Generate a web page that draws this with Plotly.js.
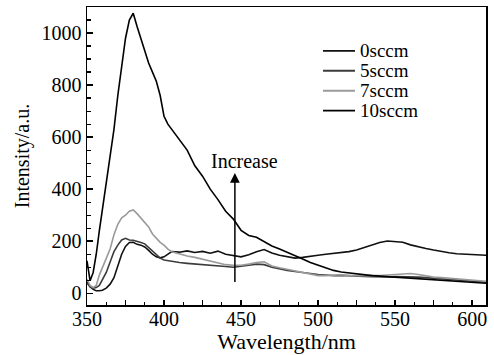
<!DOCTYPE html>
<html>
<head>
<meta charset="utf-8">
<script src="https://cdn.plot.ly/plotly-3.0.1.min.js"></script>
<style>html,body{margin:0;padding:0;background:#fff;}#chart{width:494px;height:355px;}</style>
</head>
<body>
<div id="chart"></div>
<script>
// Wavelength grid (nm)
var wavelength = [350,352,354,356,358,360,362.5,365,367.5,370,372.5,375,377.5,380,382.5,385,387.5,390,392.5,395,397.5,400,402.5,405,
  410,415,420,425,430,435,440,445,450,455,460,465,470,475,480,485,490,495,500,505,510,515,520,525,530,535,540,545,550,555,560,565,570,575,580,585,590,595,600,605,610];

var s0 = [45,25,15,10,10,12,20,35,60,110,150,180,195,196,188,185,178,165,150,140,136,140,150,160,
  158,163,157,161,154,162,150,146,140,148,160,168,155,146,140,135,138,143,146,150,153,156,160,166,176,186,195,201,198,196,186,178,172,166,160,156,152,150,148,147,146];

var s5 = [40,25,20,22,30,50,80,120,160,185,205,211,205,204,198,195,190,176,160,146,135,128,125,122,
  118,115,113,110,108,105,103,100,103,108,112,110,100,93,88,84,80,75,72,70,68,69,67,66,65,64,63,63,64,64,63,62,60,58,56,54,52,50,48,45,42];

var s7 = [55,30,22,30,70,100,140,170,225,265,290,300,315,320,306,290,272,255,228,210,196,185,170,160,
  150,143,138,131,122,116,110,108,108,112,118,121,105,98,92,86,80,72,68,68,70,71,68,67,68,69,68,70,72,75,76,72,66,62,60,58,55,52,50,48,46];

var s10 = [125,48,80,150,240,320,420,530,630,760,880,980,1050,1076,1025,980,930,885,850,815,760,680,650,630,
  592,550,490,450,400,360,315,285,242,222,215,198,182,170,158,145,132,118,108,98,88,82,78,75,70,68,66,64,62,60,58,57,56,54,52,50,48,46,44,41,38];

var seriesNames = ['0sccm','5sccm','7sccm','10sccm'];
var seriesColors = ['#111111','#3c3c3c','#9a9a9a','#000000'];
var seriesData = [s0, s5, s7, s10];

var xTickVals = [350,375,400,425,450,475,500,525,550,575,600];
var xTickText = ['350','','400','','450','','500','','550','','600'];

var serif = '"Liberation Serif", "Times New Roman", serif';

var traces = seriesData.map(function(d, i){
  return {x: wavelength, y: d, type: 'scatter', mode: 'lines', name: seriesNames[i],
          showlegend: false, line: {color: seriesColors[i], width: 1.6}};
});

// Legend drawn as annotations + short line samples (paper coordinates)
var legendTop = 0.853, legendStep = 0.067;
var shapes = [], annotations = [];
seriesNames.forEach(function(n, i){
  var yy = legendTop - i * legendStep;
  shapes.push({type: 'line', xref: 'paper', yref: 'paper', x0: 0.5915, x1: 0.6717, y0: yy, y1: yy,
               line: {color: seriesColors[i], width: 1.8}});
  annotations.push({xref: 'paper', yref: 'paper', x: 0.679, y: yy, xanchor: 'left', yanchor: 'middle',
                    showarrow: false, text: n, font: {family: serif, size: 19, color: '#000'}});
});

annotations.push({x: 446, y: 462, ax: 446, ay: 38, xref: 'x', yref: 'y', axref: 'x', ayref: 'y',
  showarrow: true, arrowhead: 2, arrowsize: 1.3, arrowwidth: 1.5, arrowcolor: '#000', text: ''});
annotations.push({x: 452, y: 510, xref: 'x', yref: 'y', showarrow: false, text: 'Increase',
  font: {family: serif, size: 20, color: '#000'}});

var layout = {
  width: 494, height: 355,
  margin: {l: 87, r: 8, t: 7, b: 50},
  paper_bgcolor: '#fff', plot_bgcolor: '#fff',
  font: {family: serif, size: 20, color: '#000'},
  showlegend: false,
  xaxis: {
    range: [350, 609], showgrid: false, zeroline: false,
    showline: true, linecolor: '#000', linewidth: 1.5, mirror: true,
    ticks: 'inside', ticklen: 5, tickwidth: 1.5, tickcolor: '#000',
    tickmode: 'array', tickvals: xTickVals, ticktext: xTickText,
    ticklabelstandoff: -5,
    tickfont: {family: serif, size: 20, color: '#000'},
    minor: {tickmode: 'linear', tick0: 350, dtick: 12.5, ticks: 'inside', ticklen: 3, tickwidth: 1.2, tickcolor: '#000'},
    title: {text: 'Wavelength/nm', font: {family: serif, size: 22, color: '#000'}, standoff: 2}
  },
  yaxis: {
    range: [-45, 1100], showgrid: false, zeroline: false,
    showline: true, linecolor: '#000', linewidth: 1.5, mirror: true,
    ticks: 'inside', ticklen: 6, tickwidth: 1.5, tickcolor: '#000',
    dtick: 200, tick0: 0,
    tickfont: {family: serif, size: 20, color: '#000'},
    minor: {dtick: 50, tick0: 0, ticks: 'inside', ticklen: 4, tickwidth: 1.2, tickcolor: '#000'},
    title: {text: 'Intensity/a.u.', font: {family: serif, size: 20, color: '#000'}, standoff: 6}
  },
  shapes: shapes,
  annotations: annotations
};

Plotly.newPlot('chart', traces, layout, {displayModeBar: false, staticPlot: true});
</script>
</body>
</html>
